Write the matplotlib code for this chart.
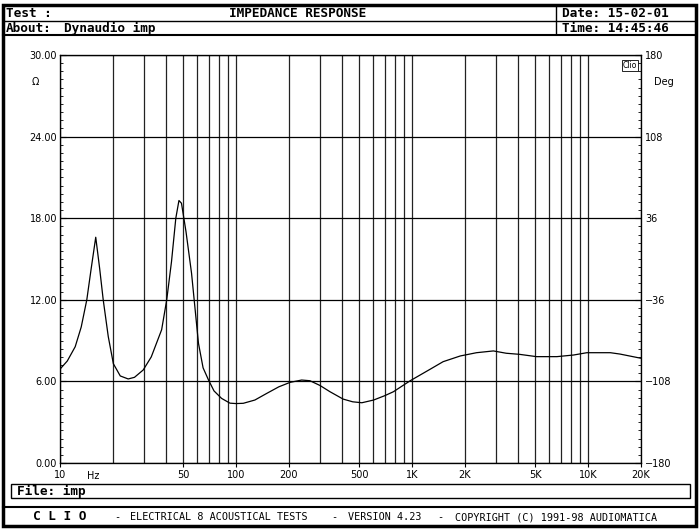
import numpy as np
import matplotlib
matplotlib.use("Agg")
import matplotlib.pyplot as plt
from matplotlib.patches import Rectangle
from matplotlib.lines import Line2D
from matplotlib.ticker import FixedLocator, NullFormatter

# impedance curve (Hz, ohm)
freq = [10, 11, 12.2, 13.2, 14.2, 15.0, 15.96, 16.8, 17.6, 18.8, 20.1, 22.0, 24.4,
        26.5, 29.7, 33.0, 37.8, 40.4, 43.0, 45.5, 47.4, 49.0, 52.0, 55.9, 61.2,
        65.0, 69.8, 75.0, 82.8, 92.4, 100, 110, 128, 149.6, 175, 203, 236, 263,
        300, 342, 406, 460, 519, 605, 700, 784, 977, 1266, 1502, 1880, 2325,
        2900, 3430, 4080, 5100, 6650, 8280, 9850, 13400, 15200, 20000]
imped = [6.9, 7.5, 8.55, 10.0, 12.0, 14.2, 16.6, 14.3, 12.0, 9.3, 7.3, 6.4, 6.18,
         6.3, 6.84, 7.8, 9.8, 12.0, 14.8, 18.0, 19.3, 19.1, 17.0, 13.95, 8.8,
         7.0, 6.1, 5.3, 4.75, 4.4, 4.37, 4.39, 4.63, 5.12, 5.6, 5.93, 6.1, 6.05,
         5.7, 5.24, 4.7, 4.5, 4.43, 4.63, 4.95, 5.24, 6.05, 6.89, 7.45, 7.87, 8.11,
         8.24, 8.07, 7.99, 7.82, 7.82, 7.94, 8.11, 8.11, 8.01, 7.70]

x_ticks = [10, 50, 100, 200, 500, 1000, 2000, 5000, 10000, 20000]
x_labels = ["10", "50", "100", "200", "500", "1K", "2K", "5K", "10K", "20K"]
y_ticks = [0, 6, 12, 18, 24, 30]
deg_ticks = [-180, -108, -36, 36, 108, 180]

W, H = 699, 529
fig = plt.figure(figsize=(W / 100, H / 100), dpi=100)
fig.patch.set_facecolor("white")

def px(x, y):
    return x / W, 1 - y / H

def hline(y, x0, x1, lw=1.0):
    fig.add_artist(Line2D([x0 / W, x1 / W], [1 - y / H, 1 - y / H], color="black", lw=lw))

def vline(x, y0, y1, lw=1.0):
    fig.add_artist(Line2D([x / W, x / W], [1 - y0 / H, 1 - y1 / H], color="black", lw=lw))

# outer frame
fig.add_artist(Rectangle(px(3, 526), 693 / W, 521 / H, fill=False, lw=2.5, ec="black"))
# header
hline(20.5, 3, 696)
hline(34.5, 3, 696, lw=1.5)
vline(556, 5, 34)
mono = dict(family="DejaVu Sans Mono", fontweight="bold", fontsize=9.2, va="center")
fig.text(*px(6, 13.5), "Test :", **mono)
fig.text(*px(298, 13.5), "IMPEDANCE RESPONSE", ha="center", **mono)
fig.text(*px(562, 13.5), "Date: 15-02-01", **mono)
fig.text(*px(6, 28), "About:", **mono)
fig.text(*px(64, 28), "Dynaudio imp", **mono)
fig.text(*px(562, 28), "Time: 14:45:46", **mono)

# file box and footer
fig.add_artist(Rectangle(px(11, 498), 679 / W, 14 / H, fill=False, lw=1.0, ec="black"))
fig.text(*px(17, 491.5), "File: imp", **mono)
hline(507, 3, 696, lw=1.5)
foot = dict(family="DejaVu Sans Mono", fontsize=7.3, va="center")
fig.text(*px(33, 517), "C L I O", **mono)
fig.text(*px(117, 517), "-", ha="center", **foot)
fig.text(*px(130, 517), "ELECTRICAL 8 ACOUSTICAL TESTS", **foot)
fig.text(*px(334, 517), "-", ha="center", **foot)
fig.text(*px(348, 517), "VERSION 4.23", **foot)
fig.text(*px(440, 517), "-", ha="center", **foot)
fig.text(*px(455, 517), "COPYRIGHT (C) 1991-98 AUDIOMATICA", **foot)

# plot area
ax = fig.add_axes([60 / W, (H - 463) / H, 581 / W, 408 / H])
ax.set_xscale("log")
ax.set_xlim(10, 20000)
ax.set_ylim(0, 30)
ax.plot(freq, imped, color="black", lw=0.9, zorder=3)

ax.xaxis.set_major_locator(FixedLocator(x_ticks))
ax.set_xticklabels(x_labels)
ax.xaxis.set_minor_formatter(NullFormatter())
ax.grid(True, which="both", axis="x", color="#222222", lw=0.9)
ax.set_yticks(y_ticks)
ax.set_yticklabels(["%.2f" % v for v in y_ticks])
ax.yaxis.grid(True, color="black", lw=0.9)
ax.yaxis.set_minor_locator(FixedLocator(np.arange(0, 30.01, 0.6)))
ax.tick_params(axis="y", which="major", direction="in", length=4, labelsize=7, pad=2, colors="black")
ax.tick_params(axis="y", which="minor", direction="in", length=2.5)
ax.tick_params(axis="x", which="major", direction="out", length=3, labelsize=7, pad=2)
ax.tick_params(axis="x", which="minor", length=0)
for s in ax.spines.values():
    s.set_linewidth(0.9)
ax.text(15.5, -0.02, "Hz", transform=ax.get_xaxis_transform(), ha="center", va="top", fontsize=7)
ax.text(-0.043, 0.935, "\u03a9", transform=ax.transAxes, ha="center", va="center", fontsize=7)
ax.text(0.981, 0.975, "Clio", transform=ax.transAxes, ha="center", va="center", fontsize=5.5,
        bbox=dict(boxstyle="square,pad=0.15", fc="white", ec="black", lw=0.6))

ax2 = ax.twinx()
ax2.set_ylim(-180, 180)
ax2.set_yticks(deg_ticks)
ax2.yaxis.set_minor_locator(FixedLocator(np.arange(-180, 180.1, 7.2)))
ax2.tick_params(axis="y", which="major", direction="in", length=4, labelsize=7, pad=3)
ax2.tick_params(axis="y", which="minor", direction="in", length=2.5)
ax.text(1.04, 0.935, "Deg", transform=ax.transAxes, ha="center", va="center", fontsize=7)

fig.savefig("out.png", dpi=100)
